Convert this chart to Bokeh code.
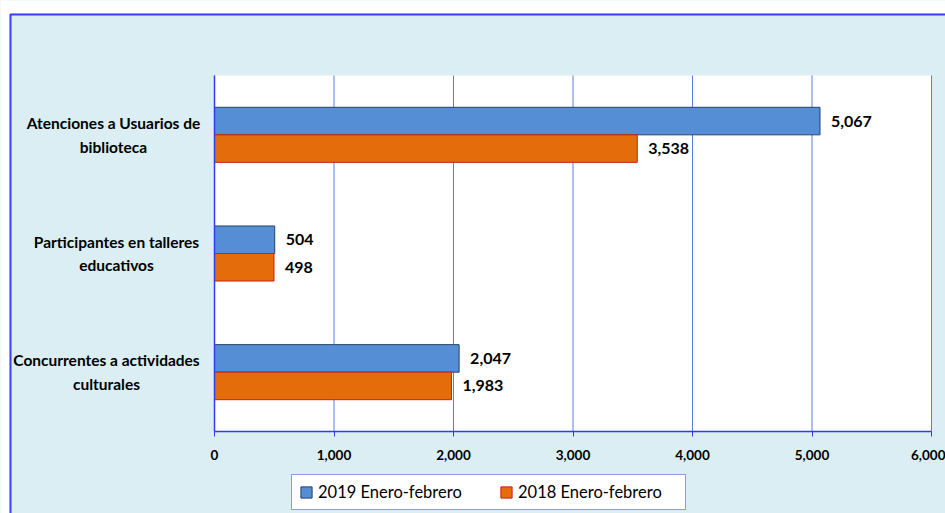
from bokeh.plotting import figure
from bokeh.models import (Range1d, Legend, LegendItem, NumeralTickFormatter, FixedTicker,
                          ColumnDataSource, LinearAxis, BoxAnnotation)
from bokeh.core.properties import value
from bokeh.embed import file_html
from bokeh.resources import INLINE

# ---- data ----
categories = ["Atenciones a Usuarios de\nbiblioteca",
              "Participantes en talleres\neducativos",
              "Concurrentes a actividades\nculturales"]
values_2019 = [5067, 504, 2047]
values_2018 = [3538, 498, 1983]
series_names = ["2019 Enero-febrero", "2018 Enero-febrero"]
x_ticks = [0, 1000, 2000, 3000, 4000, 5000, 6000]

# ---- style / layout constants ----
BG = "#DAEEF3"
BLUE = "#558ED5"
ORANGE = "#E46C0A"
AXIS = "#2F3CF0"
GRID = "#5B7FDB"
FONT = "Lato"
W, H = 945, 513
PX0, PX1 = 214, 931      # canvas x of value 0 and of the last tick
PY0, PY1 = 431, 75       # canvas y of the bottom and top of the plot area
label_dx = [-101, -98, -108]   # pixel offsets of category label centres from the value axis

n = len(categories)
xmax = x_ticks[-1]
sx = (PX1 - PX0) / xmax
sy = (PY0 - PY1) / n
x_range = Range1d(-PX0 / sx, (W - PX0) / sx)
y_range = Range1d(-(H - PY0) / sy, n + PY1 / sy)

ypos = [n - 0.5 - i for i in range(n)]   # category slots, top to bottom
bw = 0.232

src = ColumnDataSource(dict(
    y=ypos,
    y19=[y + bw / 2 for y in ypos],
    y18=[y - bw / 2 for y in ypos],
    v19=values_2019,
    v18=values_2018,
    t19=[f"{v:,}" for v in values_2019],
    t18=[f"{v:,}" for v in values_2018],
    cat=categories,
    zero=[0] * n,
    dx=label_dx,
))

p = figure(width=W, height=H, output_backend="svg", toolbar_location=None,
           x_range=x_range, y_range=y_range,
           x_axis_location=None, y_axis_location=None,
           min_border_left=0, min_border_right=0, min_border_top=0, min_border_bottom=0)
p.border_fill_color = BG
p.background_fill_color = BG
p.outline_line_color = None
p.grid.visible = False

# white plot area
p.add_layout(BoxAnnotation(left=0, right=xmax, bottom=0, top=n, fill_color="white",
                           fill_alpha=1, line_color=None, level="underlay"))

# vertical grid lines at the ticks
gsrc = ColumnDataSource(dict(x=x_ticks, y0=[0] * len(x_ticks), y1=[n] * len(x_ticks)))
p.segment(x0="x", x1="x", y0="y0", y1="y1", source=gsrc, line_color=GRID, line_width=1)

# bars
r19 = p.hbar(y="y19", right="v19", left=0, height=bw, source=src,
             fill_color=BLUE, line_color="#25406A", line_width=1)
r18 = p.hbar(y="y18", right="v18", left=0, height=bw, source=src,
             fill_color=ORANGE, line_color="#C8201A", line_width=1)

# value labels
for vcol, ycol, tcol in (("v19", "y19", "t19"), ("v18", "y18", "t18")):
    p.text(x=vcol, y=ycol, text=tcol, source=src,
           x_offset=11, text_baseline="middle", text_align="left",
           text_font=value(FONT), text_font_style="bold", text_font_size="16px",
           text_color="black")

# category labels (centred lines, as in the original)
p.text(x="zero", y="y", text="cat", source=src, x_offset="dx",
       text_align="center", text_baseline="middle", text_line_height=1.3,
       text_font=value(FONT), text_font_style="bold", text_font_size="15.5px",
       text_color="black")

# value axis
xaxis = LinearAxis(fixed_location=0, bounds=(0, xmax),
                   ticker=FixedTicker(ticks=x_ticks),
                   formatter=NumeralTickFormatter(format="0,0"),
                   axis_line_color=AXIS, axis_line_width=1.5,
                   major_tick_line_color=AXIS, major_tick_out=5, major_tick_in=0,
                   minor_tick_line_color=None, major_label_standoff=13,
                   major_label_text_font=FONT, major_label_text_font_style="bold",
                   major_label_text_font_size="13.5px", major_label_text_color="black")
p.add_layout(xaxis, "below")

# category axis line
yaxis = LinearAxis(fixed_location=0, bounds=(0, n), ticker=FixedTicker(ticks=[]),
                   axis_line_color=AXIS, axis_line_width=1.5,
                   major_tick_line_color=None, minor_tick_line_color=None,
                   major_label_text_color=None)
p.add_layout(yaxis, "left")

# white page edge and the chart's outer border
for l, r, t, b in ((0, W, 0, 13), (0, 9, 0, H)):
    p.add_layout(BoxAnnotation(left=l, right=r, top=t, bottom=b,
                               left_units="canvas", right_units="canvas",
                               top_units="canvas", bottom_units="canvas",
                               fill_color="white", fill_alpha=1, line_color=None))
p.add_layout(BoxAnnotation(left=10, right=W + 20, top=14, bottom=H + 20,
                           left_units="canvas", right_units="canvas",
                           top_units="canvas", bottom_units="canvas",
                           fill_alpha=0, line_color="#3C3CF5", line_alpha=1, line_width=2))

legend = Legend(items=[LegendItem(label=series_names[0], renderers=[r19]),
                       LegendItem(label=series_names[1], renderers=[r18])],
                orientation="horizontal", location=(291, 3),
                padding=7, margin=0, spacing=21, label_standoff=5, label_width=160,
                glyph_width=14, glyph_height=14, label_height=19,
                label_text_font=FONT, label_text_font_size="16.5px", label_text_color="black",
                border_line_color="#2A2AF0", border_line_width=1.5,
                background_fill_color="white", background_fill_alpha=1)
p.add_layout(legend)

open("out.html", "w").write(file_html(p, INLINE))
